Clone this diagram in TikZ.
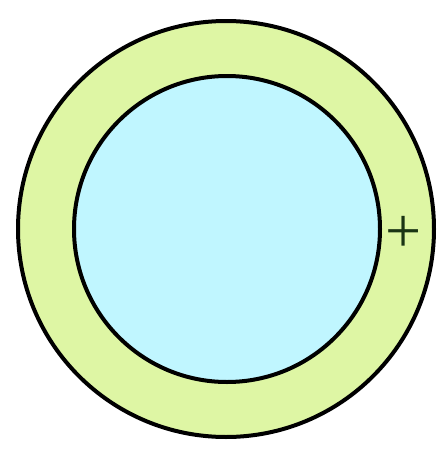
\documentclass[tikz,border=0pt]{standalone}
\usepackage{fontspec}
\newfontfamily\plusfont{Liberation Serif}
\definecolor{ringgreen}{RGB}{222,246,164}
\definecolor{corecyan}{RGB}{192,246,255}
\definecolor{plusdark}{RGB}{26,52,20}
\begin{document}
\begin{tikzpicture}[x=1pt,y=-1pt,
  ring/.style={draw=black,line width=4pt,fill=ringgreen},
  core/.style={draw=black,line width=4pt,fill=corecyan}]
\useasboundingbox[fill=white] (0,0) rectangle (445,458);
\node[ring,circle,minimum size=416pt,inner sep=0pt] (outer) at (226,229) {};
\node[core,circle,minimum size=306pt,inner sep=0pt] (inner) at (227,229) {};
\node[text=plusdark,inner sep=0pt] (plus) at (404,234) {\plusfont\fontsize{64}{64}\selectfont +};
\end{tikzpicture}
\end{document}
